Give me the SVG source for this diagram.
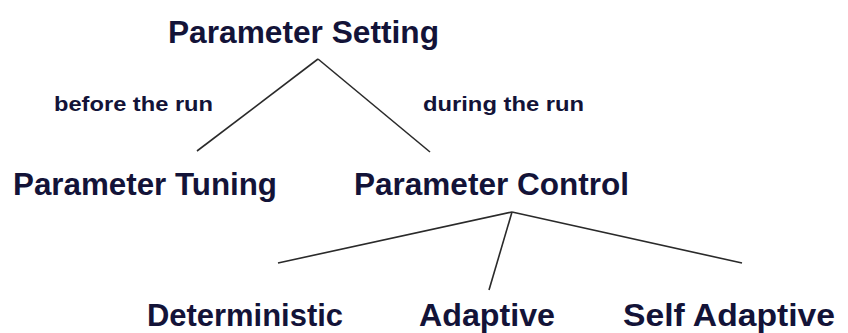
<svg xmlns="http://www.w3.org/2000/svg" width="848" height="333" viewBox="0 0 848 333">
<style>
.t{font-family:"Liberation Sans",Arial,sans-serif;font-weight:bold;fill:#131338}
.big{font-size:31px}
.small{font-size:20px}
.c line{stroke:#2a2a2a;stroke-width:1.6;fill:none}
</style>
<rect width="848" height="333" fill="#fff"/>
<g class="c" id="connectors">
<line x1="318" y1="59" x2="197" y2="151"/>
<line x1="318" y1="59" x2="430" y2="152"/>
<line x1="512" y1="212" x2="278" y2="263"/>
<line x1="512" y1="212" x2="489" y2="290"/>
<line x1="512" y1="212" x2="742" y2="263"/>
</g>
<g id="setting"><text class="t big" x="168" y="43" textLength="271" lengthAdjust="spacingAndGlyphs">Parameter Setting</text></g>
<g id="before"><text class="t small" x="54" y="111" textLength="159" lengthAdjust="spacingAndGlyphs">before the run</text></g>
<g id="during"><text class="t small" x="423" y="111" textLength="161" lengthAdjust="spacingAndGlyphs">during the run</text></g>
<g id="tuning"><text class="t big" x="13" y="195" textLength="264" lengthAdjust="spacingAndGlyphs">Parameter Tuning</text></g>
<g id="control"><text class="t big" x="354" y="195" textLength="275" lengthAdjust="spacingAndGlyphs">Parameter Control</text></g>
<g id="deterministic"><text class="t big" x="147" y="326" textLength="196" lengthAdjust="spacingAndGlyphs">Deterministic</text></g>
<g id="adaptive"><text class="t big" x="419" y="326" textLength="136" lengthAdjust="spacingAndGlyphs">Adaptive</text></g>
<g id="selfadaptive"><text class="t big" x="623" y="326" textLength="212" lengthAdjust="spacingAndGlyphs">Self Adaptive</text></g>
</svg>
